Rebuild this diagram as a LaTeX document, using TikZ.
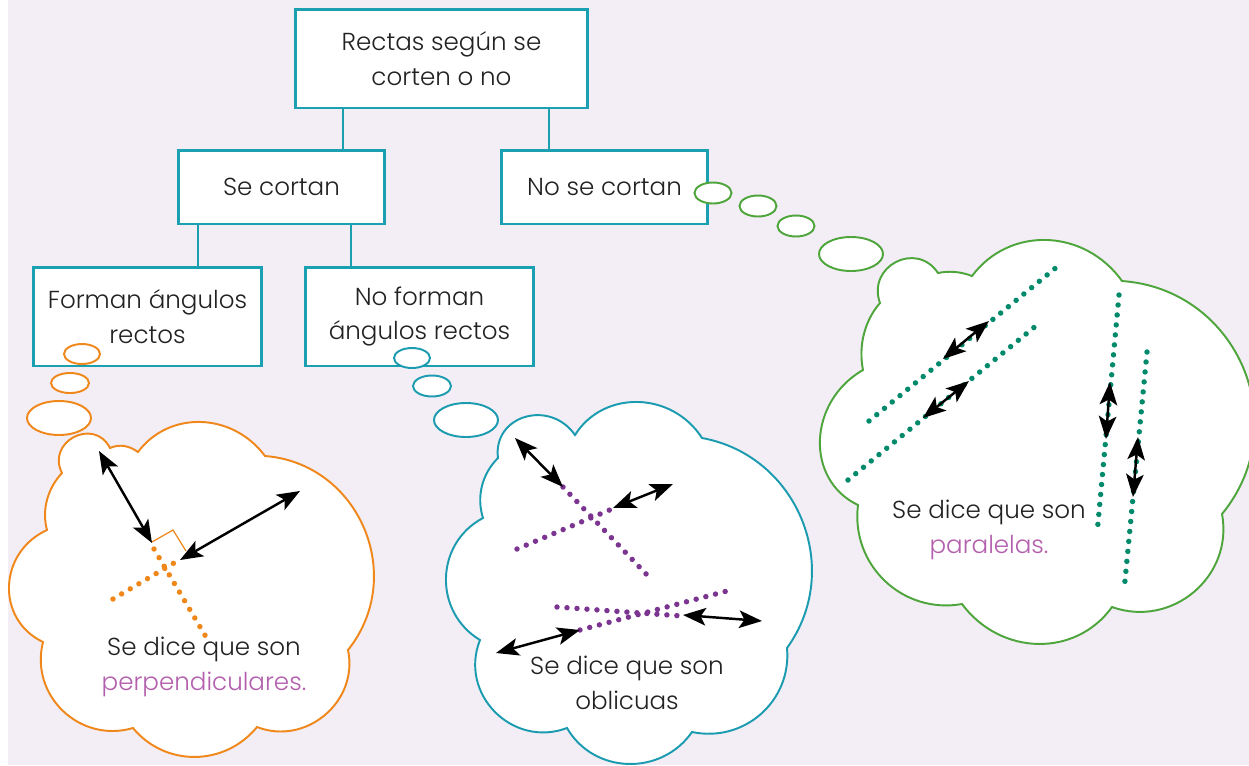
\documentclass[tikz,border=0pt]{standalone}
\usepackage{fontspec}
\setmainfont{Poppins}[UprightFont={* Light}]
\usetikzlibrary{calc,arrows.meta}
\usepackage{xcolor}
\definecolor{bglila}{HTML}{F3EDF6}
\definecolor{boxteal}{HTML}{1BA0B2}
\definecolor{orangeline}{HTML}{F0871A}
\definecolor{tealline}{HTML}{1A9BAF}
\definecolor{greenline}{HTML}{4DA53B}
\definecolor{purpledot}{HTML}{7B3590}
\definecolor{greendot}{HTML}{00896B}
\definecolor{textpink}{HTML}{B35FAD}
\definecolor{textblack}{HTML}{222222}
% one bump of a cloud: flatness, start, top of the bump, end
\newcommand{\bump}[4]{.. controls ($(#2)!#1!(#4)+1.3333*(#3)-0.6667*(#2)-0.6667*(#4)$) and ($(#4)!#1!(#2)+1.3333*(#3)-0.6667*(#2)-0.6667*(#4)$) .. (#4)}

\begin{document}
\begin{tikzpicture}
[x=0.02cm, y=-0.02cm,
every node/.style={font=\fontsize{14pt}{19.8pt}\selectfont, text=textblack},
% The box style is used for the boxes of the tree
box/.style={rectangle, draw=boxteal, line width=1.7pt, fill=white, align=center, inner sep=0pt},
link/.style={draw=boxteal, line width=1.3pt},
% The cloud style is used for the thought bubbles
cloud/.style={line width=1.1pt, fill=white},
% The dotline style is used to draw the lines as round dots
dotline/.style={line width=3.1pt, line cap=round, dash pattern=on 0pt off 5.7pt},
dblarrow/.style={line width=1.4pt, {Stealth[length=13pt,width=10pt,inset=3pt]}-{Stealth[length=13pt,width=10pt,inset=3pt]}},
saytext/.style={align=center, inner sep=0pt}
]
\useasboundingbox (0,0) rectangle (1249,765);
\fill[white] (0,0) rectangle (1249,765);
\fill[bglila] (8,0) rectangle (1249,765);
% Draw the tree
\node[box, minimum width=5.86cm, minimum height=1.98cm] (rectas) at (441.5,58.5) {Rectas según se\\corten o no};
\node[box, minimum width=4.14cm, minimum height=1.48cm] (secortan) at (281.5,187) {Se cortan};
\node[box, minimum width=4.14cm, minimum height=1.48cm] (nosecortan) at (604.5,187) {No se cortan};
\node[box, minimum width=4.58cm, minimum height=1.98cm] (forman) at (147.5,316.5) {Forman ángulos\\rectos};
\node[box, minimum width=4.58cm, minimum height=1.98cm] (noforman) at (419.5,316.5) {No forman\\ángulos rectos};
\draw[link] (rectas.south -| 343,0) -- (secortan.north -| 343,0);
\draw[link] (rectas.south -| 549,0) -- (nosecortan.north -| 549,0);
\draw[link] (secortan.south -| 198,0) -- (forman.north -| 198,0);
\draw[link] (secortan.south -| 351,0) -- (noforman.north -| 351,0);
% Draw clouds
\draw[cloud, draw=orangeline] (62,473) \bump{0}{62,473}{74,437}{110,448} \bump{0.33}{110,448}{124,446}{138,452}
  \bump{0.25}{138,452}{201,422}{265,456} \bump{0.21}{265,456}{364,528}{348,650} \bump{0.21}{348,650}{325,715}{257,727}
  \bump{0.26}{257,727}{195,757}{133,728} \bump{0.22}{133,728}{63,711}{43,642} \bump{0.2}{43,642}{9,586}{47,530}
  \bump{0.31}{47,530}{47,500}{62,473} -- cycle;
\draw[cloud, draw=tealline] (498,458) \bump{0.13}{498,458}{525,417}{575,435} \bump{0.23}{575,435}{638,402}{702,438}
  \bump{0.23}{702,438}{802,520}{787,648} \bump{0.25}{787,648}{761,714}{692,732} \bump{0.23}{692,732}{628,764}{567,728}
  \bump{0.19}{567,728}{495,712}{480,640} \bump{0.22}{480,640}{446,578}{483,518} \bump{0.31}{483,518}{482,486}{498,458} -- cycle;
\draw[cloud, draw=greenline] (880,303) \bump{0.07}{880,303}{896,262}{938,273} \bump{0.33}{938,273}{955,272}{972,276}
  \bump{0.25}{972,276}{1047,240}{1122,281} \bump{0.21}{1122,281}{1243,367}{1222,514} \bump{0.22}{1222,514}{1194,592}{1112,607}
  \bump{0.25}{1112,607}{1038,644}{962,604} \bump{0.25}{962,604}{885,581}{858,505} \bump{0.21}{858,505}{820,440}{863,370}
  \bump{0.31}{863,370}{864,334}{880,303} -- cycle;
% Small bubbles
\draw[cloud, draw=orangeline] (82,354) ellipse (18 and 10) (70,383) ellipse (19 and 10) (59,418) ellipse (32 and 17);
\draw[cloud, draw=tealline] (412,358) ellipse (18 and 10) (432,386) ellipse (19 and 10.5) (466,420) ellipse (32 and 17);
\draw[cloud, draw=greenline] (713,193) ellipse (18.5 and 10.5) (758,206) ellipse (18.5 and 10.5) (796,226) ellipse (18.5 and 10.5) (851,254) ellipse (32 and 17);
% Perpendiculares
\draw[dotline, orangeline] (154,549) -- (209,642);
\draw[dotline, orangeline] (113,599) -- (174,563);
\draw[orangeline, line width=0.7pt] (152,542) -- (173,530) -- (186,551);
\draw[dblarrow] (99,451) -- (152,543);
\draw[dblarrow] (180,560) -- (300,491);
% Oblicuas
\draw[dotline, purpledot] (563,487) -- (649,577);
\draw[dotline, purpledot] (517,549) -- (612,509);
\draw[dotline, purpledot] (557,607) -- (682,616);
\draw[dotline, purpledot] (580,630) -- (727,591);
\draw[dblarrow] (515,438) -- (563,487);
\draw[dblarrow] (613,508) -- (673,484);
\draw[dblarrow] (683,615) -- (762,621);
\draw[dblarrow] (580,630) -- (496,653);
% Paralelas
\draw[dotline, greendot] (869,421) -- (1058,266);
\draw[dotline, greendot] (848,480) -- (1037,325);
\draw[dotline, greendot] (1119,295) -- (1097,534);
\draw[dotline, greendot] (1147,352) -- (1124,591);
\draw[dblarrow] (989,321) -- (943,359);
\draw[dblarrow] (969,381) -- (923,418);
\draw[dblarrow] (1110,382) -- (1106,439);
\draw[dblarrow] (1138,437) -- (1133,497);
% Texts of the clouds
\node[saytext] (perptext) at (204,667) {Se dice que son\\\textcolor{textpink}{perpendiculares.}};
\node[saytext] (oblitext) at (627,683) {Se dice que son\\oblicuas};
\node[saytext] (paratext) at (989,530) {Se dice que son\\\textcolor{textpink}{paralelas.}};
\end{tikzpicture}
\end{document}
